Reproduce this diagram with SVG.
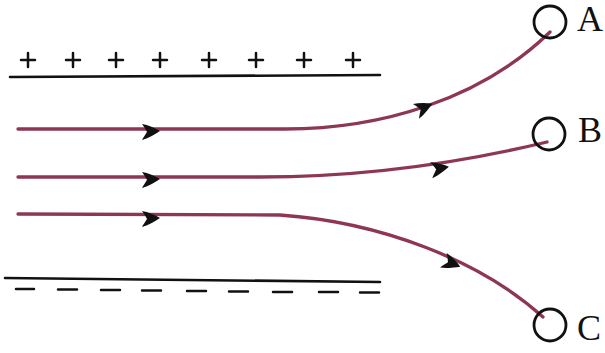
<svg xmlns="http://www.w3.org/2000/svg" width="605" height="353" viewBox="0 0 605 353">
<style>
.plate{stroke:#111;stroke-width:2.6;fill:none;stroke-linecap:round}
.sign{stroke:#111;stroke-width:2.5;fill:none;stroke-linecap:round}
.ray{stroke:#8d3656;stroke-width:3.3;fill:none;stroke-linecap:round}
.node{stroke:#111;stroke-width:2.8;fill:none}
.lbl{font-family:"Liberation Serif","Times New Roman",serif;font-size:36px;fill:#111}
</style>
<defs>
<path id="ah" d="M9,0 C4,-3 -3,-6 -9,-7 C-6,-3 -5,-1 -4,1 C-6,4 -8,7 -9,9 C-2,7 4,3 9,0 Z" fill="#111"/>
</defs>
<rect width="605" height="353" fill="#fff"/>
<g id="top-plate">
<line class="plate" x1="10" y1="77" x2="380" y2="75"/>
<path class="sign" d="M21,60h14M28,53v14M66,60h14M73,53v14M109,60h14M116,53v14M153,60h14M160,53v14M202,60h14M209,53v14M249,60h14M256,53v14M297,60h14M304,53v14M346,60h14M353,53v14"/>
</g>
<g id="bottom-plate">
<line class="plate" x1="5" y1="278" x2="380" y2="282"/>
<path class="sign" stroke-width="3.2" d="M16,289h18M58,289.5h19M101,290h19M142,290.5h19M187,291h19M229,291.5h19M273,292h19M319,292h19M360,292.5h19"/>
</g>
<g id="connectors">
<path class="ray" d="M18,129 L285,129 C380,129 480,100 550,32"/>
<path class="ray" d="M18,177 L260,177 C360,177 460,163 547,142"/>
<path class="ray" d="M18,214 L280,215 C380,222 480,260 543,317"/>
<use href="#ah" transform="translate(151,131)"/>
<use href="#ah" transform="translate(151,179)"/>
<use href="#ah" transform="translate(151,218)"/>
<use href="#ah" transform="translate(424,107) rotate(-22)"/>
<use href="#ah" transform="translate(440,168) rotate(-8)"/>
<use href="#ah" transform="translate(452,263) rotate(24)"/>
</g>
<g id="node-A">
<circle class="node" cx="550" cy="22" r="16"/>
<text class="lbl" x="577" y="31">A</text>
</g>
<g id="node-B">
<circle class="node" cx="549" cy="134" r="16"/>
<text class="lbl" x="578" y="142">B</text>
</g>
<g id="node-C">
<circle class="node" cx="550" cy="325" r="16"/>
<text class="lbl" x="577" y="340">C</text>
</g>
</svg>
